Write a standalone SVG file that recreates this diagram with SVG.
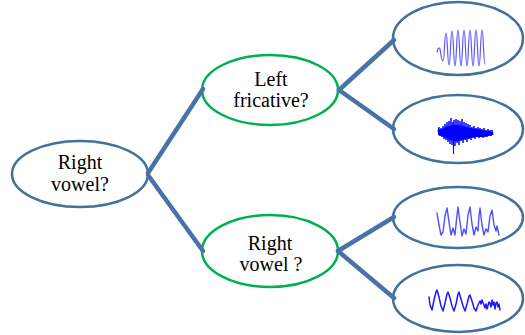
<svg xmlns="http://www.w3.org/2000/svg" width="525" height="335" viewBox="0 0 525 335">
  <style>
    .q { fill: #ffffff; stroke: #00b050; stroke-width: 2.5; }
    .leaf { fill: #ffffff; stroke: #41719c; stroke-width: 2.5; }
    .root { fill: #ffffff; stroke: #41719c; stroke-width: 2.5; }
    .lbl { font-family: "Liberation Serif", "Times New Roman", serif; font-size: 20px; fill: #000000; text-anchor: middle; }
    .edge { stroke: #4872a8; stroke-width: 4.5; fill: none; stroke-linecap: round; }
    .wave { fill: none; stroke-linejoin: round; stroke-linecap: round; }
  </style>

  <!-- decision nodes -->
  <g id="root">
    <ellipse class="root" cx="80" cy="174" rx="68" ry="33"/>
    <text class="lbl" x="80" y="169">Right</text>
    <text class="lbl" x="80" y="191">vowel?</text>
  </g>

  <g id="left-fricative">
    <ellipse class="q" cx="270" cy="90" rx="68" ry="35"/>
    <text class="lbl" x="271" y="86">Left</text>
    <text class="lbl" x="271" y="107">fricative?</text>
  </g>

  <g id="right-vowel">
    <ellipse class="q" cx="270" cy="251" rx="68" ry="36"/>
    <text class="lbl" x="270" y="250">Right</text>
    <text class="lbl" x="271" y="271">vowel ?</text>
  </g>

  <!-- waveform leaves -->
  <g id="leaf-vowel-a">
    <ellipse class="leaf" cx="458" cy="38.5" rx="65" ry="36.5"/>
    <path class="wave" stroke="#5a5aff" stroke-width="1.2"
      d="M437,52 C438,48 439,47 440,49 C441,53 441,61 443,61 C444.5,61 444.5,33 446,33 C447.5,33 447.5,65 449,65 C450.5,65 450.5,31 452,31 C453.5,31 453.5,66 455,66 C456.5,66 456.5,30 458,30 C459.5,30 459.5,66 461,66 C462.5,66 462.5,30 464,30 C465.5,30 465.5,66 467,66 C468.5,66 468.5,30 470,30 C471.5,30 471.5,66 473,66 C474.5,66 474.5,30 476,30 C477.5,30 477.5,66 479,66 C480.5,66 480.5,30 482,30 C483.5,30 483.5,64 485,64"/>
  </g>

  <g id="leaf-fricative">
    <ellipse class="leaf" cx="458" cy="129" rx="65" ry="34"/>
    <polygon fill="#0000ff" points="438,130 442,129 446,127 450,126 454,125 458,125 462,126 466,127 470,128 476,129 482,130 488,131 493,132 493,135 488,136 482,137 476,137 470,138 466,139 462,140 458,141 454,141 450,140 446,138 442,136 438,135"/>
    <polyline class="wave" stroke="#0000ff" stroke-width="1" points="438,131 439,127 440,136 441,128 442,137 443,126 444,139 445,124 446,140 447,122 448,142 449,121 450,144 451,118 452,145 453,122 453.5,154 454,120 455,146 456,119 457,143 458,120 459,145 460,121 461,141 462,119 463,143 464,122 465,140 466,123 467,142 468,124 469,139 470,125 471,140 472,127 473,138 474,126 475,139 476,128 477,137 478,127 479,138 480,128 481,137 482,129 483,138 484,128 485,137 486,130 487,137 488,129 489,136 490,130 491,136 492,130 493,134"/>
  </g>

  <g id="leaf-vowel-b">
    <ellipse class="leaf" cx="458" cy="217.5" rx="65" ry="30.5"/>
    <polyline class="wave" stroke="#4f4fff" stroke-width="1.4" points="437,213 439,225 441,235 443,232 445,216 447,208 449,222 451,235 453,228 455,235 457,215 458,207 460,222 462,236 464,229 466,234 468,215 470,207 472,224 474,235 476,227 478,231 479,216 480,208 482,225 484,235 486,229 488,232 490,216 492,210 494,225 496,231 497,226 499,235"/>
  </g>

  <g id="leaf-vowel-c">
    <ellipse class="leaf" cx="458" cy="298.5" rx="65" ry="33.5"/>
    <polyline class="wave" stroke="#1a1aff" stroke-width="1.5" points="429,297 430,305 432,310 434,300 436,292 437,290 439,297 441,306 443,311 445,303 447,294 448,292 450,298 452,306 454,311 456,304 458,294 459,292 461,299 463,306 465,311 467,304 469,296 470,295 472,301 474,308 476,311 478,305 480,301 481,304 482,300 484,305 485,308 486,304 487,309 489,302 490,303 491,307 492,300 493,305 494,302 495,309 496,303 497,302 498,307 499,304 500,310"/>
  </g>

  <!-- branches -->
  <g id="connectors">
    <line class="edge" x1="148" y1="173" x2="203" y2="89"/>
    <line class="edge" x1="148" y1="175" x2="203" y2="251"/>
    <line class="edge" x1="339" y1="90" x2="394" y2="40"/>
    <line class="edge" x1="339" y1="90" x2="394" y2="129"/>
    <line class="edge" x1="338" y1="251" x2="394" y2="217"/>
    <line class="edge" x1="338" y1="251" x2="394" y2="298"/>
  </g>
</svg>
